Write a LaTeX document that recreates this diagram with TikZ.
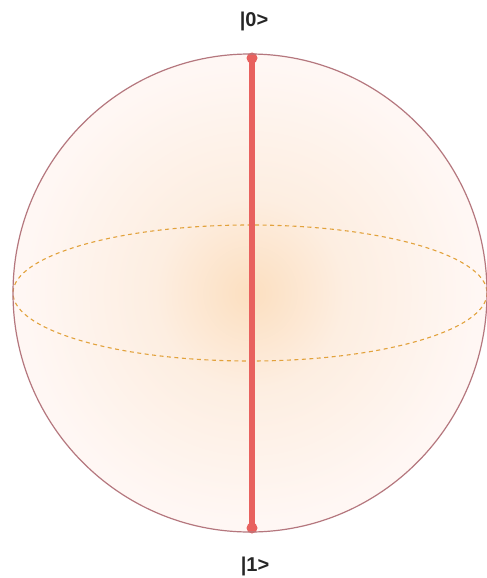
\documentclass[tikz,border=0pt]{standalone}
\usepackage{fontspec}
\setmainfont{Liberation Sans}
\definecolor{shc}{HTML}{FCDFC0}
\definecolor{shm}{HTML}{FDEEE1}
\definecolor{sho}{HTML}{FFF7F4}
\definecolor{rimc}{HTML}{B5777E}
\definecolor{axisc}{HTML}{E8615E}
\definecolor{eqc}{HTML}{E2A23C}
\pgfdeclareradialshading{sph}{\pgfpoint{0bp}{0bp}}{color(0bp)=(shc); color(10bp)=(shm); color(24bp)=(sho); color(50bp)=(white)}
\tikzset{
  lbl/.style={font=\fontsize{20}{22}\selectfont\bfseries, text=black!85, inner sep=0pt},
  rim/.style={draw=rimc, line width=1.2pt},
  equator/.style={draw=eqc, line width=1.1pt, dash pattern=on 4pt off 3.5pt},
  qaxis/.style={draw=axisc, line width=6.5pt},
  pole/.style={circle, fill=axisc, minimum size=11pt, inner sep=0pt}
}
\begin{document}
\begin{tikzpicture}[x=1pt,y=-1pt]
\useasboundingbox (0,0) rectangle (487,578);
\fill[white] (0,0) rectangle (487,578);
\coordinate (c) at (250,293);
\shade[shading=sph] (c) ellipse [x radius=237, y radius=239];
\draw[equator] (c) ellipse [x radius=237, y radius=68];
\node[pole] (top) at (252,58) {};
\node[pole] (bot) at (252,528) {};
\draw[qaxis] (top.center) -- (bot.center);
\draw[rim] (c) ellipse [x radius=237, y radius=239];
\node[lbl] (l0) at (254,21) {|0>};
\node[lbl] (l1) at (255,566) {|1>};
\end{tikzpicture}
\end{document}
